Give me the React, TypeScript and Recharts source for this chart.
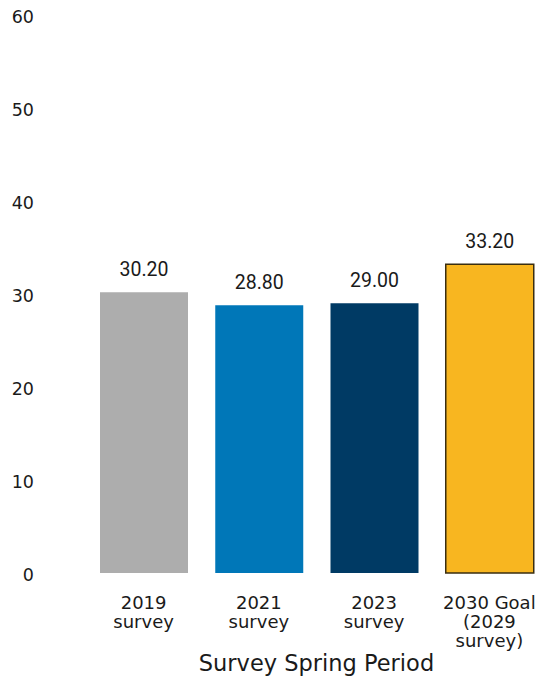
import { Bar, BarChart, Cell, LabelList, XAxis, YAxis } from "recharts";

const categories = ["2019 survey", "2021 survey", "2023 survey", "2030 Goal (2029 survey)"];
const tickLines = [
  ["2019", "survey"],
  ["2021", "survey"],
  ["2023", "survey"],
  ["2030 Goal", "(2029", "survey)"],
];
const values = [30.2, 28.8, 29.0, 33.2];
const yTicks = [0, 10, 20, 30, 40, 50, 60];

const barColors = ["#adadad", "#0077b8", "#003a64", "#f8b620"];
const barStrokes = ["none", "none", "none", "#3a2e10"];

const data = categories.map((name, i) => ({ name, value: values[i], lines: tickLines[i] }));

const tickFont = "'DejaVu Sans', sans-serif";

function CategoryTick(props: any) {
  const { x, y, index } = props;
  const lines = tickLines[index] ?? [];
  return (
    <text x={x} y={y + 36} textAnchor="middle" fontFamily={tickFont} fontSize={18} fill="#1a1a1a">
      {lines.map((ln, i) => (
        <tspan key={i} x={x} dy={i === 0 ? 0 : 19}>
          {ln}
        </tspan>
      ))}
    </text>
  );
}

export default function App() {
  return (
    <div style={{ position: "absolute", left: 0, top: 0, width: 539, height: 678, overflow: "hidden", background: "#fff" }}>
      <BarChart width={547} height={678} data={data} margin={{ top: 15, right: 0, bottom: 0, left: 0 }}>
        <XAxis
          dataKey="name"
          axisLine={false}
          tickLine={false}
          tickSize={0}
          tickMargin={0}
          height={105}
          interval={0}
          tick={<CategoryTick />}
          label={{
            value: "Survey Spring Period",
            position: "insideBottom",
            offset: 7,
            fontFamily: tickFont,
            fontSize: 22.5,
            fill: "#1a1a1a",
          }}
        />
        <YAxis
          domain={[0, 60]}
          ticks={yTicks}
          axisLine={false}
          tickLine={false}
          tickSize={0}
          tickMargin={52}
          width={86}
          tick={{ fontFamily: tickFont, fontSize: 17.5, fill: "#1a1a1a", dy: 2 }}
        />
        <Bar dataKey="value" barSize={88} isAnimationActive={false}>
          {data.map((d, i) => (
            <Cell key={d.name} fill={barColors[i]} stroke={barStrokes[i]} strokeWidth={1.5} />
          ))}
          <LabelList
            dataKey="value"
            position="top"
            offset={16}
            formatter={(v: any) => Number(v).toFixed(2)}
            style={{ fontFamily: "Roboto, sans-serif", fontSize: 19.5, fill: "#1a1a1a" }}
          />
        </Bar>
      </BarChart>
    </div>
  );
}
